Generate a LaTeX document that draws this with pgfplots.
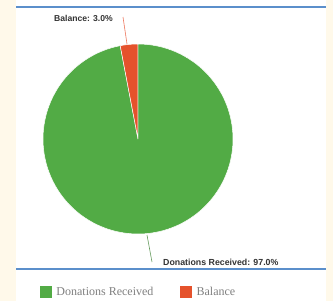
\documentclass[border=0pt]{standalone}
\usepackage{pgfplots}
\pgfplotsset{compat=1.18}
\usepackage{fontspec}
\setmainfont{Liberation Serif}
\newfontfamily\lsans{Liberation Sans}
\definecolor{cream}{HTML}{FFF9EA}
\definecolor{pgreen}{HTML}{52AB45}
\definecolor{pred}{HTML}{E5522C}
\definecolor{bline}{HTML}{5B8FCB}
\def\vDon{97.0}
\def\vBal{3.0}
\begin{document}
\begin{tikzpicture}
\fill[cream] (0,0) rectangle (333pt,-301pt);
\fill[white] (16pt,0) rectangle (326pt,-301pt);
\draw[bline, line width=2pt] (16pt,-6.5pt) -- (326pt,-6.5pt);
\draw[bline, line width=2pt] (16pt,-269pt) -- (326pt,-269pt);
\pgfmathsetmacro{\aStart}{90}
\pgfmathsetmacro{\aMid}{90+3.6*\vBal}
\pgfmathsetmacro{\aEnd}{90+3.6*(\vBal+\vDon)}
\begin{axis}[
  at={(138pt,-139pt)}, anchor=center,
  scale only axis, width=190pt, height=190pt,
  xmin=-95, xmax=95, ymin=-95, ymax=95,
  hide axis, clip=false,
  legend columns=2,
  legend image code/.code={\fill[#1, draw=none] (0pt,-6pt) rectangle (12pt,6pt); \path (14pt,0pt);},
  legend style={draw=none, fill=none, at={(axis cs:-98,-153)}, anchor=west,
    inner sep=0pt, legend cell align=left,
    font=\color{gray}\fontsize{12}{14}\selectfont,
    /tikz/every even column/.append style={column sep=25pt}},
]
\addplot[fill=pgreen, draw=white, line width=0.5pt, domain=\aMid:\aEnd, samples=120, variable=\t]
  ({95*cos(\t)},{95*sin(\t)}) -- (axis cs:0,0) -- cycle;
\addlegendentry{Donations Received}
\addplot[fill=pred, draw=white, line width=0.5pt, domain=\aStart:\aMid, samples=10, variable=\t]
  ({95*cos(\t)},{95*sin(\t)}) -- (axis cs:0,0) -- cycle;
\addlegendentry{Balance}
\addplot[forget plot, pred!70!pink, line width=0.6pt] coordinates {(-11,95) (-15,122)};
\addplot[forget plot, pgreen!60!gray, line width=0.6pt] coordinates {(9,-96) (14,-123)};
\node[anchor=east, inner sep=0pt, font=\lsans\bfseries\fontsize{8.6}{10}\selectfont, text=black!80] at (axis cs:-25,121) {Balance: 3.0\%};
\node[anchor=west, inner sep=0pt, font=\lsans\bfseries\fontsize{8.8}{10}\selectfont, text=black!80] at (axis cs:25,-123) {Donations Received: 97.0\%};
\end{axis}
\end{tikzpicture}
\end{document}
